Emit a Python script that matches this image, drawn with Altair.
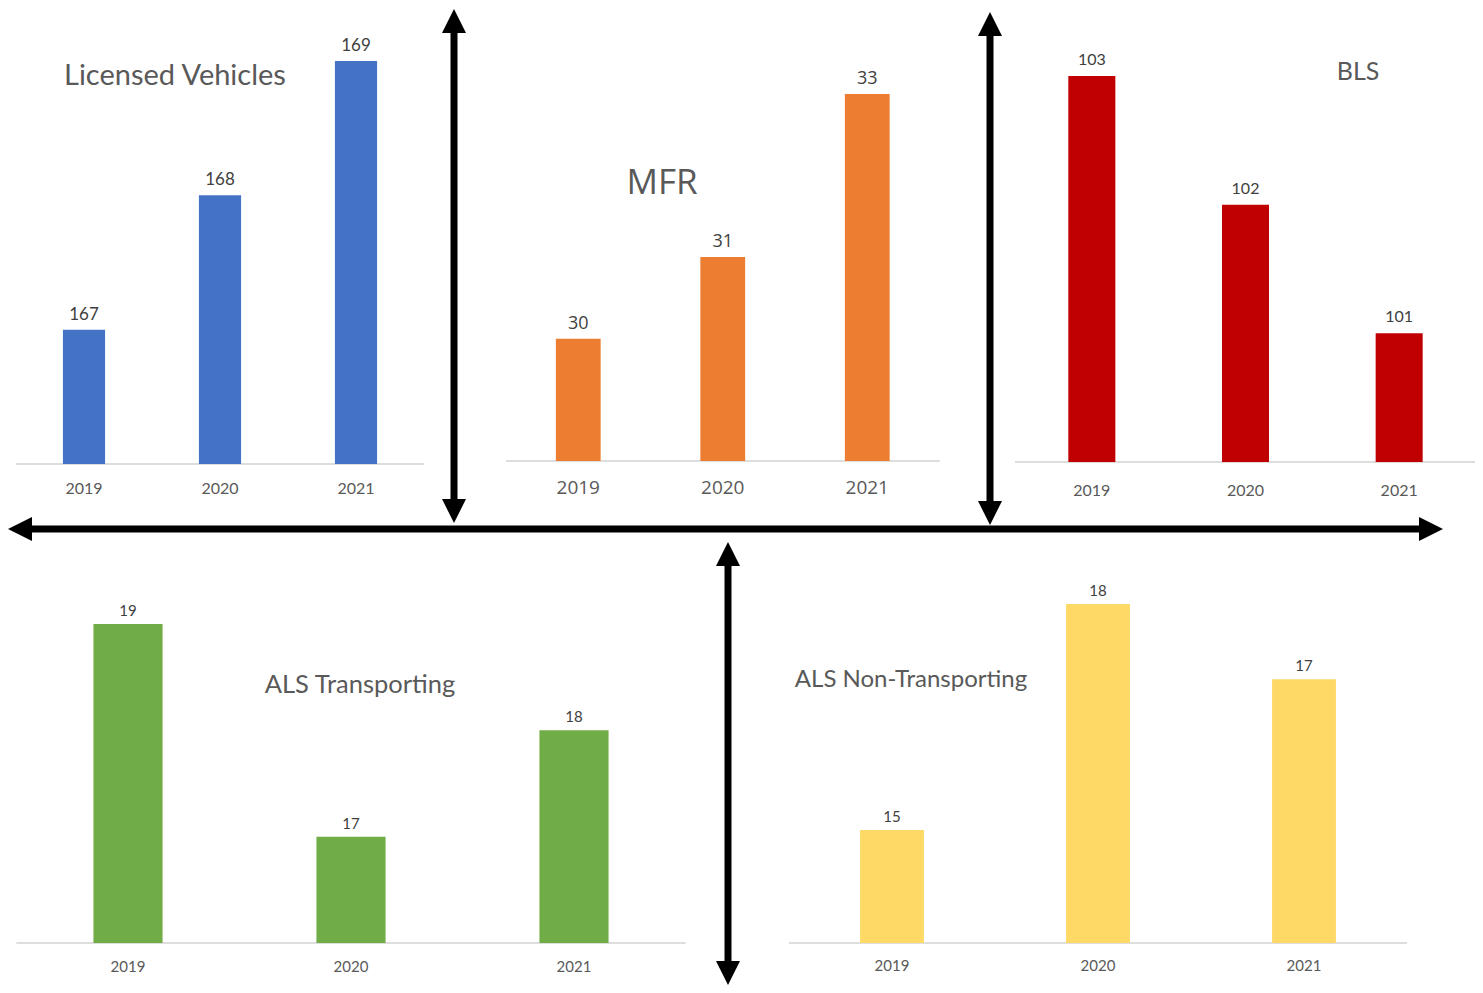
import altair as alt
import pandas as pd

# ---------------- data ----------------
years = ["2019", "2020", "2021"]
lv_values = [167, 168, 169]
mfr_values = [30, 31, 33]
bls_values = [103, 102, 101]
alst_values = [19, 17, 18]
alsn_values = [15, 18, 17]

titles = ["Licensed Vehicles", "MFR", "BLS", "ALS Transporting", "ALS Non-Transporting"]
colors = ["#4472C4", "#ED7D31", "#C00000", "#70AD47", "#FFD966"]
bases = [166, 28.5, 100, 16, 13.5]
tops = [169, 33, 103, 19, 18]

# ---------------- layout (reference pixel coordinates) ----------------
M = 8  # page margin
W, H = 1467, 977

layout = [
    dict(xr=[16, 424], yr=[464, 61], pi=0.69, font="Lato", vsize=17, vdy=-15, ysize=16, ydy=25,
         tx=64, ty=76, tsize=29, talign="left"),
    dict(xr=[506, 939.5], yr=[461, 94], pi=0.69, font="Open Sans", vsize=18, vdy=-15, ysize=19, ydy=27,
         tx=662, ty=183, tsize=35, talign="center"),
    dict(xr=[1015, 1476], yr=[462, 76], pi=0.694, font="Lato", vsize=16, vdy=-16, ysize=16, ydy=29,
         tx=1358, ty=72, tsize=25, talign="center"),
    dict(xr=[16.5, 685.5], yr=[943, 624], pi=0.69, font="Lato", vsize=15, vdy=-13, ysize=15, ydy=24,
         tx=360, ty=685, tsize=25.5, talign="center"),
    dict(xr=[789, 1407], yr=[943, 604], pi=0.69, font="Lato", vsize=15, vdy=-13, ysize=15, ydy=23,
         tx=911, ty=680, tsize=24, talign="center"),
]

series = [lv_values, mfr_values, bls_values, alst_values, alsn_values]

layers = []
for i, (vals, lay) in enumerate(zip(series, layout)):
    df = pd.DataFrame({"year": years, "value": vals, "base": [bases[i]] * len(years)})
    xs = alt.Scale(domain=years, range=[lay["xr"][0] - M, lay["xr"][1] - M],
                   paddingInner=lay["pi"], paddingOuter=lay["pi"] / 2)
    ys = alt.Scale(domain=[bases[i], tops[i]], range=[lay["yr"][0] - M, lay["yr"][1] - M], zero=False, nice=False)
    X = alt.X("year:N", scale=xs, axis=None)
    base_chart = alt.Chart(df)

    # baseline
    layers.append(base_chart.mark_rule(color="#d9d9d9", strokeWidth=1).encode(
        x=alt.value(lay["xr"][0] - M), x2=alt.value(lay["xr"][1] - M),
        y=alt.Y("base:Q", scale=ys, axis=None)))
    # bars
    layers.append(base_chart.mark_bar(color=colors[i]).encode(
        x=X, y=alt.Y("value:Q", scale=ys, axis=None), y2="base:Q"))
    # value labels
    layers.append(base_chart.mark_text(font=lay["font"], fontSize=lay["vsize"], color="#404040",
                                       baseline="middle", dy=lay["vdy"]).encode(
        x=X, y=alt.Y("value:Q", scale=ys, axis=None), text="value:Q"))
    # year labels
    layers.append(base_chart.mark_text(font=lay["font"], fontSize=lay["ysize"], color="#595959",
                                       baseline="middle", dy=lay["ydy"]).encode(
        x=X, y=alt.Y("base:Q", scale=ys, axis=None), text="year:N"))
    # title
    layers.append(alt.Chart(pd.DataFrame({"t": [titles[i]]})).mark_text(
        font=lay["font"], fontSize=lay["tsize"], color="#595959", baseline="middle", align=lay["talign"]).encode(
        x=alt.value(lay["tx"] - M), y=alt.value(lay["ty"] - M), text="t:N"))

# ---------------- arrows ----------------
HEAD = 576
SHAFT = 7
shapes = {
    "up": "M0,-1L1,1L-1,1Z",
    "down": "M0,1L1,-1L-1,-1Z",
    "left": "M-1,0L1,-1L1,1Z",
    "right": "M1,0L-1,-1L-1,1Z",
}
dummy = pd.DataFrame({"a": [0]})


def head(x, y, d):
    return alt.Chart(dummy).mark_point(shape=shapes[d], filled=True, size=HEAD, color="black",
                                       opacity=1, strokeWidth=0).encode(x=alt.value(x - M), y=alt.value(y - M))


def hrule(x1, x2, y):
    return alt.Chart(dummy).mark_rule(color="black", strokeWidth=SHAFT).encode(
        x=alt.value(x1 - M), x2=alt.value(x2 - M), y=alt.value(y - M))


def vrule(x, y1, y2):
    return alt.Chart(dummy).mark_rule(color="black", strokeWidth=SHAFT).encode(
        x=alt.value(x - M), y=alt.value(y1 - M), y2=alt.value(y2 - M))


# horizontal double arrow
layers += [hrule(24, 1425, 529), head(20, 529, "left"), head(1431, 529, "right")]
# vertical arrows
layers += [vrule(454, 25, 508), head(454, 21, "up"), head(454, 511, "down")]
layers += [vrule(990, 28, 510), head(990, 24, "up"), head(990, 513, "down")]
layers += [vrule(728, 558, 970), head(728, 554, "up"), head(728, 973, "down")]

chart = alt.layer(*layers).resolve_scale(x="independent", y="independent").properties(
    width=W, height=H, autosize=alt.AutoSizeParams(type="none"), padding=0
).configure_view(stroke=None)

chart.save("out.html", embed_options={"renderer": "svg", "actions": False})
